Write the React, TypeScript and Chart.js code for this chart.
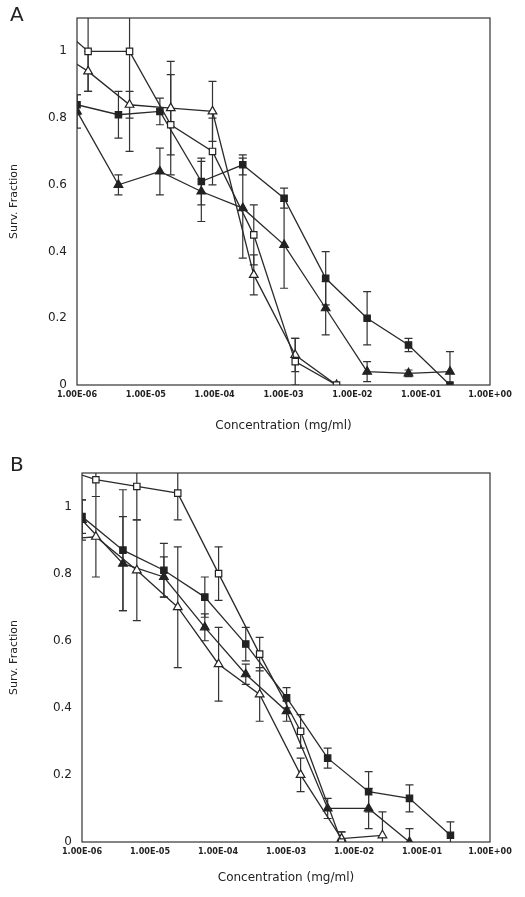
import React, { useEffect, useRef } from "react";
import { Chart, registerables } from "chart.js";
Chart.register(...registerables);

// Panel A
const aXFilled = [1e-6, 4e-6, 1.6e-5, 6.4e-5, 2.56e-4, 1.02e-3, 4.1e-3, 1.64e-2, 6.55e-2, 2.62e-1];
const aXOpen = [3.6e-7, 1.45e-6, 5.8e-6, 2.3e-5, 9.3e-5, 3.7e-4, 1.48e-3, 5.9e-3];
const aFilledSquare = [0.84, 0.81, 0.82, 0.61, 0.66, 0.56, 0.32, 0.2, 0.12, 0.0];
const aFilledSquareErr = [0.03, 0.07, 0.04, 0.07, 0.03, 0.03, 0.08, 0.08, 0.02, 0.0];
const aFilledTri = [0.82, 0.6, 0.64, 0.58, 0.53, 0.42, 0.23, 0.04, 0.035, 0.04];
const aFilledTriErr = [0.05, 0.03, 0.07, 0.09, 0.15, 0.13, 0.08, 0.03, 0.01, 0.06];
const aOpenSquare = [1.11, 1.0, 1.0, 0.78, 0.7, 0.45, 0.07, 0.0];
const aOpenSquareErr = [0, 0.12, 0.3, 0.15, 0.1, 0.09, 0.07, 0.0];
const aOpenTri = [1.02, 0.94, 0.84, 0.83, 0.82, 0.33, 0.09, 0.0];
const aOpenTriErr = [0, 0.06, 0.04, 0.14, 0.09, 0.06, 0.05, 0.0];

// Panel B
const bXFilled = [1e-6, 4e-6, 1.6e-5, 6.4e-5, 2.56e-4, 1.02e-3, 4.1e-3, 1.64e-2, 6.55e-2, 2.62e-1];
const bXOpen = [4e-7, 1.6e-6, 6.4e-6, 2.56e-5, 1.02e-4, 4.1e-4, 1.64e-3, 6.55e-3, 2.62e-2];
const bFilledSquare = [0.97, 0.87, 0.81, 0.73, 0.59, 0.43, 0.25, 0.15, 0.13, 0.02];
const bFilledSquareErr = [0.05, 0.18, 0.08, 0.06, 0.05, 0.03, 0.03, 0.06, 0.04, 0.04];
const bFilledTri = [0.96, 0.83, 0.79, 0.64, 0.5, 0.39, 0.1, 0.1, 0.0];
const bFilledTriErr = [0.06, 0.14, 0.06, 0.04, 0.03, 0.03, 0.03, 0.06, 0.04];
const bOpenSquare = [1.12, 1.08, 1.06, 1.04, 0.8, 0.56, 0.33, 0.0];
const bOpenSquareErr = [0, 0.05, 0.1, 0.08, 0.08, 0.05, 0.05, 0.03];
const bOpenTri = [0.9, 0.91, 0.81, 0.7, 0.53, 0.44, 0.2, 0.01, 0.02];
const bOpenTriErr = [0, 0.12, 0.15, 0.18, 0.11, 0.08, 0.05, 0.02, 0.07];

const xTickValues = [1e-6, 1e-5, 1e-4, 1e-3, 1e-2, 1e-1, 1];
const yTickValues = [0, 0.2, 0.4, 0.6, 0.8, 1];

const fmtE = (v: number) => {
  const e = Math.round(Math.log10(v));
  const s = e < 0 ? "-" : "+";
  return "1.00E" + s + String(Math.abs(e)).padStart(2, "0");
};

const mk = (xs: number[], ys: number[], errs: number[], style: string, filled: boolean) => ({
  data: xs.slice(0, ys.length).map((x, i) => ({ x, y: ys[i] })),
  errors: errs,
  borderColor: "#2a2a2a",
  borderWidth: 1.3,
  pointStyle: style,
  pointRadius: style === "triangle" ? 5 : 4.5,
  pointBackgroundColor: filled ? "#222" : "#fff",
  pointBorderColor: "#222",
  pointBorderWidth: 1.2,
  tension: 0,
});

const errPlugin = {
  id: "err",
  beforeDatasetsDraw(chart: any) {
    const { ctx, chartArea: a, scales } = chart;
    ctx.save();
    ctx.beginPath();
    ctx.rect(a.left, a.top, a.right - a.left, a.bottom - a.top);
    ctx.clip();
    ctx.strokeStyle = "#333";
    ctx.lineWidth = 1.2;
    chart.data.datasets.forEach((ds: any) => {
      ds.data.forEach((p: any, i: number) => {
        const e = ds.errors[i];
        if (!e) return;
        const x = scales.x.getPixelForValue(p.x);
        const y1 = scales.y.getPixelForValue(p.y + e);
        const y2 = scales.y.getPixelForValue(p.y - e);
        ctx.beginPath();
        ctx.moveTo(x, y1); ctx.lineTo(x, y2);
        ctx.moveTo(x - 4, y1); ctx.lineTo(x + 4, y1);
        ctx.moveTo(x - 4, y2); ctx.lineTo(x + 4, y2);
        ctx.stroke();
      });
    });
    ctx.restore();
  },
  afterDraw(chart: any) {
    const { ctx, chartArea: a } = chart;
    ctx.save();
    ctx.strokeStyle = "#333";
    ctx.lineWidth = 1.2;
    ctx.strokeRect(a.left, a.top, a.right - a.left, a.bottom - a.top);
    ctx.restore();
  },
};

function Panel({ letter, datasets, top, height, areaTop, areaBottom, left }: any) {
  const ref = useRef<HTMLCanvasElement>(null);
  useEffect(() => {
    const chart = new Chart(ref.current!, {
      type: "line",
      data: { datasets },
      plugins: [errPlugin],
      options: {
        animation: false,
        responsive: false,
        layout: { autoPadding: false, padding: { top: areaTop, right: 35, bottom: 0, left: 0 } },
        plugins: { legend: { display: false }, tooltip: { enabled: false } },
        scales: {
          x: {
            type: "logarithmic",
            min: 1e-6,
            max: 1,
            afterBuildTicks: (ax: any) => { ax.ticks = xTickValues.map((v) => ({ value: v })); },
            afterFit: (ax: any) => { ax.height = height - areaBottom; },
            ticks: {
              autoSkip: false, maxRotation: 0, color: "#222", padding: 4,
              font: { family: "DejaVu Sans Condensed", size: 9, weight: "bold" },
              callback: (v: any) => fmtE(Number(v)),
            },
            grid: { display: false, drawTicks: false },
            border: { display: false },
            title: { display: true, text: "Concentration (mg/ml)", color: "#222", font: { family: "DejaVu Sans", size: 12 }, padding: { top: 4, bottom: 12 } },
          },
          y: {
            min: 0,
            max: 1.1,
            afterBuildTicks: (ax: any) => { ax.ticks = yTickValues.map((v) => ({ value: v })); },
            afterFit: (ax: any) => { ax.width = left; },
            ticks: { color: "#222", padding: 10, font: { family: "DejaVu Sans", size: 12 }, callback: (v: any) => String(Number(v)) },
            grid: { display: false, drawTicks: false },
            border: { display: false },
            title: { display: true, text: "Surv. Fraction", color: "#222", font: { family: "DejaVu Sans", size: 11 }, padding: { top: 8, bottom: 4 } },
          },
        },
      } as any,
    });
    return () => chart.destroy();
  }, []);
  return (
    <div style={{ position: "absolute", left: 0, top, width: 525, height }}>
      <canvas ref={ref} width={525} height={height} style={{ width: 525, height }} />
      <div style={{ position: "absolute", left: 10, top: 2, fontFamily: "DejaVu Sans", fontSize: 20, color: "#222" }}>{letter}</div>
    </div>
  );
}

export default function App() {
  const dsA = [
    mk(aXOpen, aOpenSquare, aOpenSquareErr, "rect", false),
    mk(aXOpen, aOpenTri, aOpenTriErr, "triangle", false),
    mk(aXFilled, aFilledSquare, aFilledSquareErr, "rect", true),
    mk(aXFilled, aFilledTri, aFilledTriErr, "triangle", true),
  ];
  const dsB = [
    mk(bXOpen, bOpenSquare, bOpenSquareErr, "rect", false),
    mk(bXOpen, bOpenTri, bOpenTriErr, "triangle", false),
    mk(bXFilled, bFilledSquare, bFilledSquareErr, "rect", true),
    mk(bXFilled, bFilledTri, bFilledTriErr, "triangle", true),
  ];
  return (
    <div style={{ position: "absolute", left: 0, top: 0, width: 525, height: 897, background: "#fff" }}>
      <Panel letter="A" datasets={dsA} top={0} height={445} areaTop={18} areaBottom={385} left={77} />
      <Panel letter="B" datasets={dsB} top={450} height={447} areaTop={23} areaBottom={392} left={82} />
    </div>
  );
}
